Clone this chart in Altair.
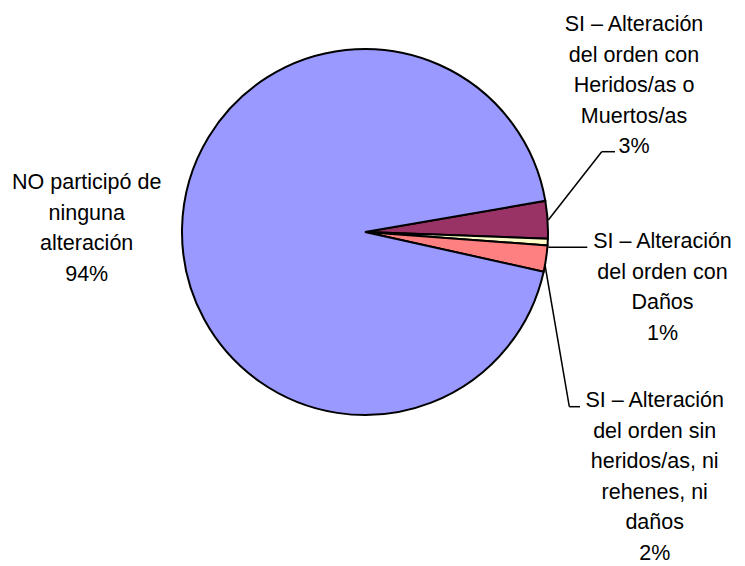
import math
import altair as alt
import pandas as pd

# Data
categories = [
    "SI – Alteración del orden con Heridos/as o Muertos/as",
    "SI – Alteración del orden con Daños",
    "SI – Alteración del orden sin heridos/as, ni rehenes, ni daños",
    "NO participó de ninguna alteración",
]
values = [3.3, 0.6, 2.3, 93.8]
label_lines = [
    ["SI – Alteración", "del orden con", "Heridos/as o", "Muertos/as"],
    ["SI – Alteración", "del orden con", "Daños"],
    ["SI – Alteración", "del orden sin", "heridos/as, ni", "rehenes, ni", "daños"],
    ["NO participó de", "ninguna", "alteración"],
]
colors = ["#993366", "#FFFFCC", "#FF8080", "#9999FF"]

total = sum(values)
pct_text = [f"{int(v / total * 100 + 0.5)}%" for v in values]
df = pd.DataFrame({
    "cat": categories,
    "value": values,
    "order": list(range(len(categories))),
    "label": ["\n".join(l + [p]) for l, p in zip(label_lines, pct_text)],
})

W, H = 729, 558
CX, CY, R = 357, 224, 183
start = math.radians(80.2)

base = alt.Chart(df)

pie = base.mark_arc(radius=R, stroke="black", strokeWidth=2).encode(
    theta=alt.Theta("value:Q", stack=True,
                    scale=alt.Scale(range=[start, start + 2 * math.pi])),
    color=alt.Color("cat:N", scale=alt.Scale(domain=categories, range=colors), legend=None),
    order=alt.Order("order:Q"),
    x=alt.value(CX),
    y=alt.value(CY),
)

FONT = "Liberation Sans"
FS = 21.5
LH = 30.5

label_pos = {
    categories[0]: (626, 23),
    categories[1]: (654.5, 240),
    categories[2]: (646.7, 399),
    categories[3]: (78.7, 181),
}

layers = [pie]
for c in categories:
    lx, ly = label_pos[c]
    layers.append(
        base.transform_filter(alt.datum.cat == c)
        .mark_text(font=FONT, fontSize=FS, lineHeight=LH, align="center",
                   baseline="alphabetic", lineBreak="\n", color="black")
        .encode(text="label:N", x=alt.value(lx), y=alt.value(ly))
    )

# leader lines (annotation)
segments = [
    (540.3, 212, 593.7, 143.7),
    (593.7, 143.7, 607, 143.7),
    (540.3, 239.3, 579.3, 239.3),
    (537, 257, 561.3, 398.7),
    (561.3, 398.7, 572, 398.7),
]
for x1, y1, x2, y2 in segments:
    layers.append(
        alt.Chart(df).transform_filter(alt.datum.order == 0)
        .mark_rule(color="black", strokeWidth=1.5)
        .encode(x=alt.value(x1), y=alt.value(y1), x2=alt.value(x2), y2=alt.value(y2))
    )

chart = alt.layer(*layers).properties(
    width=W, height=H, padding=0, autosize="none"
).configure_view(stroke=None)

chart.save("out.html", embed_options={"renderer": "svg", "actions": False})
